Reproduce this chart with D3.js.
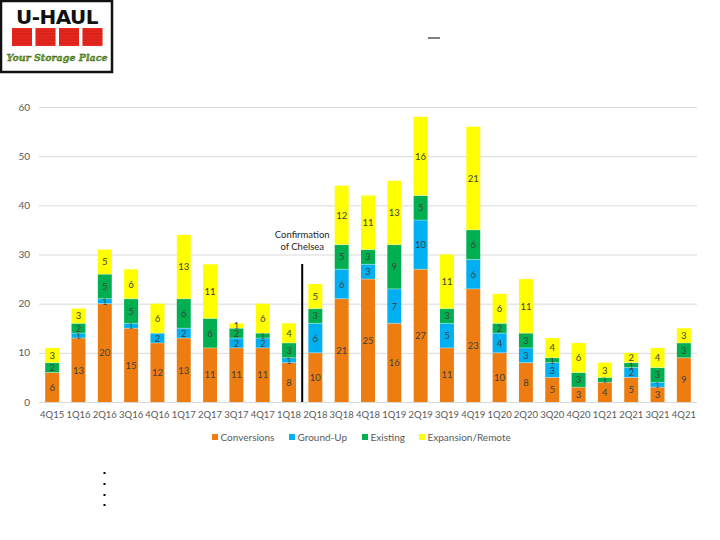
<!DOCTYPE html>
<html><head><meta charset="utf-8">
<script src="https://cdn.jsdelivr.net/npm/d3@7"></script>
<style>body{margin:0;background:#fff;}svg{display:block;font-family:Lato,'Open Sans',sans-serif;}</style>
</head><body>
<svg id="c" width="720" height="540"></svg>
<script>
const categories = ["4Q15","1Q16","2Q16","3Q16","4Q16","1Q17","2Q17","3Q17","4Q17","1Q18","2Q18","3Q18","4Q18","1Q19","2Q19","3Q19","4Q19","1Q20","2Q20","3Q20","4Q20","1Q21","2Q21","3Q21","4Q21"];
const conversions = [6,13,20,15,12,13,11,11,11,8,10,21,25,16,27,11,23,10,8,5,3,4,5,3,9];
const groundUp    = [0,1,1,1,2,2,0,2,2,1,6,6,3,7,10,5,6,4,3,3,0,0,2,1,0];
const existing    = [2,2,5,5,0,6,6,2,1,3,3,5,3,9,5,3,6,2,3,1,3,1,1,3,3];
const expansion   = [3,3,5,6,6,13,11,1,6,4,5,12,11,13,16,11,21,6,11,4,6,3,2,4,3];
const seriesNames = ["Conversions","Ground-Up","Existing","Expansion/Remote"];
const seriesColors = ["#ED7D11","#00B0F0","#00B050","#FFFF00"];
const yTicks = [0,10,20,30,40,50,60];
const annotation = ["Confirmation","of Chelsea"];
const annotationBetween = ["1Q18","2Q18"];

const svg = d3.select("#c");
const L = 39, R = 697, T = 107, B = 402;
const x = d3.scaleBand().domain(categories).range([L, R]).paddingInner(0.47).paddingOuter(0.235);
const y = d3.scaleLinear().domain([0, 60]).range([B, T]);

// Logo
const logo = svg.append("g");
logo.append("rect").attr("x",1).attr("y",1).attr("width",111).attr("height",71).attr("fill","#fff").attr("stroke","#111").attr("stroke-width",2.5);
logo.append("text").attr("x",57).attr("y",24).attr("text-anchor","middle").attr("font-family","'DejaVu Sans',sans-serif").attr("font-weight","bold").attr("font-size",20).attr("fill","#111").attr("letter-spacing","-0.5").text("U-HAUL");
[0,1,2,3].forEach(i=>{
  logo.append("rect").attr("x",12+i*23.5).attr("y",28).attr("width",20).attr("height",18).attr("fill","#E8281E");
  for(let k=1;k<6;k++) logo.append("line").attr("x1",12+i*23.5).attr("x2",32+i*23.5).attr("y1",28+k*3).attr("y2",28+k*3).attr("stroke","#B81A12").attr("stroke-width",0.6);
});
logo.append("text").attr("x",57).attr("y",61).attr("text-anchor","middle").attr("font-family","'DejaVu Serif',serif").attr("font-style","italic").attr("font-weight","bold").attr("font-size",9.5).attr("fill","#6BA52A").attr("stroke","#2d4a10").attr("stroke-width",0.3).text("Your Storage Place");

// dash
svg.append("line").attr("x1",428).attr("x2",440).attr("y1",38).attr("y2",38).attr("stroke","#808080").attr("stroke-width",2);

// grid
svg.append("g").selectAll("line").data(yTicks).join("line")
  .attr("x1",L).attr("x2",R).attr("y1",d=>y(d)+0.5).attr("y2",d=>y(d)+0.5)
  .attr("stroke","#D9D9D9").attr("stroke-width",1);
svg.append("g").selectAll("text").data(yTicks).join("text")
  .attr("x",30).attr("y",d=>y(d)+3.5).attr("text-anchor","end")
  .attr("font-size",10).attr("fill","#595959").text(d=>d);

// stacked bars
const rows = categories.map((c,i)=>({cat:c, s0:conversions[i], s1:groundUp[i], s2:existing[i], s3:expansion[i]}));
const stack = d3.stack().keys(["s0","s1","s2","s3"])(rows);
stack.forEach((layer,li)=>{
  const g = svg.append("g");
  g.selectAll("rect").data(layer).join("rect")
    .attr("x",d=>x(d.data.cat)).attr("width",x.bandwidth())
    .attr("y",d=>y(d[1])).attr("height",d=>y(d[0])-y(d[1]))
    .attr("fill",seriesColors[li]);
  g.selectAll("text").data(layer.filter(d=>d[1]-d[0]>0)).join("text")
    .attr("x",d=>x(d.data.cat)+x.bandwidth()/2)
    .attr("y",d=>(y(d[0])+y(d[1]))/2+3.5)
    .attr("text-anchor","middle").attr("font-size",9.5).attr("fill","#404040")
    .text(d=>d[1]-d[0]);
});
// separators between segments
stack.slice(1).forEach(layer=>{
  svg.append("g").selectAll("line").data(layer.filter(d=>d[1]-d[0]>0)).join("line")
    .attr("x1",d=>x(d.data.cat)).attr("x2",d=>x(d.data.cat)+x.bandwidth())
    .attr("y1",d=>y(d[0])).attr("y2",d=>y(d[0]))
    .attr("stroke","#ffffff").attr("stroke-opacity",0.5).attr("stroke-width",0.7);
});

// x labels
svg.append("g").selectAll("text").data(categories).join("text")
  .attr("x",d=>x(d)+x.bandwidth()/2).attr("y",418).attr("text-anchor","middle")
  .attr("font-size",9.5).attr("fill","#595959").text(d=>d);

// annotation
const ax = (x(annotationBetween[0]) + x.bandwidth() + x(annotationBetween[1]))/2;
svg.append("line").attr("x1",ax).attr("x2",ax).attr("y1",264).attr("y2",B)
  .attr("stroke","#000").attr("stroke-width",2);
svg.append("text").attr("x",ax).attr("y",238).attr("text-anchor","middle").attr("font-size",9.5).attr("fill","#262626").text(annotation[0]);
svg.append("text").attr("x",ax).attr("y",250).attr("text-anchor","middle").attr("font-size",9.5).attr("fill","#262626").text(annotation[1]);

// legend
const legX = [212, 289, 362, 419];
const leg = svg.append("g");
seriesNames.forEach((n,i)=>{
  leg.append("rect").attr("x",legX[i]).attr("y",434).attr("width",6).attr("height",6).attr("fill",seriesColors[i]);
  leg.append("text").attr("x",legX[i]+8.5).attr("y",440.5).attr("font-size",10).attr("fill","#595959").text(n);
});

// bullets
[473,484,495,505].forEach(yy=>{
  svg.append("rect").attr("x",103.5).attr("y",yy-1).attr("width",2).attr("height",2).attr("fill","#000");
});
</script>
</body></html>
